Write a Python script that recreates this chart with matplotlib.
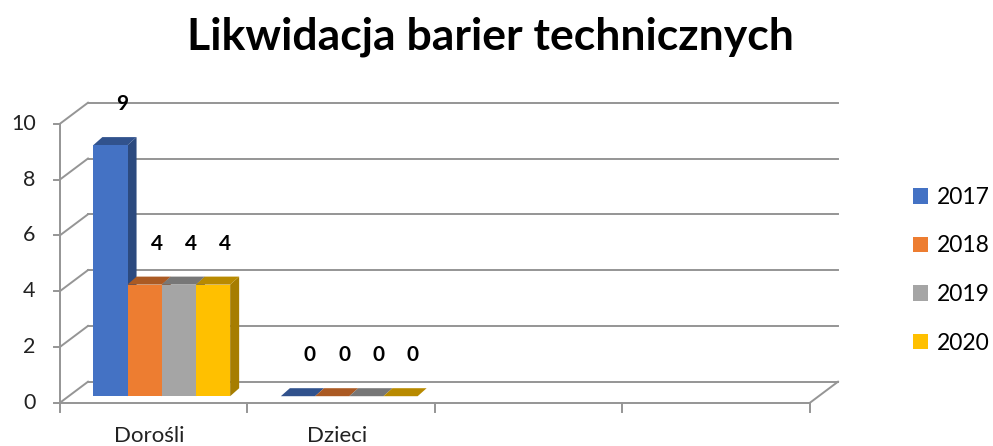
import matplotlib
matplotlib.use("Agg")
import matplotlib.pyplot as plt
from matplotlib.patches import Polygon
import numpy as np

plt.rcParams['font.family'] = ['Lato', 'DejaVu Sans']

categories = ['Dorośli', 'Dzieci', '', '']
years = ['2017', '2018', '2019', '2020']
values_2017 = [9, 0]
values_2018 = [4, 0]
values_2019 = [4, 0]
values_2020 = [4, 0]
series = [values_2017, values_2018, values_2019, values_2020]
colors = ['#4472C4', '#ED7D31', '#A5A5A5', '#FFC000']
yticks = [0, 2, 4, 6, 8, 10]

# pixel geometry of the fake 3D box (data units: 1 category = 187.5 px, 1 value = 27.9 px)
PX = 187.5
PY = 27.9
wall_dx, wall_dy = 28 / PX, 21 / PY      # back wall offset
bar_dx, bar_dy = 8 / PX, 6.5 / PY        # bars front plane offset
dep_dx, dep_dy = 9 / PX, 8 / PY          # bar depth
bar_w = 34.2 / PX
grid_c = '#959595'


def shade(c, f):
    r, g, b = matplotlib.colors.to_rgb(c)
    return (r * f, g * f, b * f)


fig = plt.figure(figsize=(9.93, 4.46), dpi=100)
ax = fig.add_axes([0, 0, 1, 1])
ax.set_xlim(-60 / PX, (993 - 60) / PX)
ax.set_ylim((402.7 - 446) / PY, 402.7 / PY)
ax.axis('off')

n_cat = len(categories)
# back wall gridlines + side wall diagonals
for v in yticks:
    ax.plot([wall_dx, n_cat + wall_dx], [v + wall_dy, v + wall_dy], color=grid_c, lw=1.4, zorder=1)
    ax.plot([0, wall_dx], [v, v + wall_dy], color=grid_c, lw=1.4, zorder=1)
    ax.plot([-6 / PX, 0], [v, v], color=grid_c, lw=1.4, zorder=1)
    ax.text(-0.13, v, str(v), ha='right', va='center', fontsize=15.5, color='#222222')
# floor
ax.plot([0, n_cat], [0, 0], color=grid_c, lw=1.4, zorder=1)
ax.plot([n_cat, n_cat + wall_dx], [0, wall_dy], color=grid_c, lw=1.4, zorder=1)
ax.plot([0, 0], [0, 10], color=grid_c, lw=1.4, zorder=1)
for i in range(n_cat + 1):
    ax.plot([i, i], [0, -9 / PY], color=grid_c, lw=1.4, zorder=1)
for i, c in enumerate(categories):
    ax.text(i + 0.5 - 4 / PX, -1.40, c, ha='center', va='baseline', fontsize=16, color='#222222')

# bars
handles = []
z = 3
for ci in range(len(values_2017)):
    x_start = ci + 0.5 + bar_dx - 2 * bar_w
    for si, vals in enumerate(series):
        x0 = x_start + si * bar_w
        h = vals[ci]
        b = bar_dy
        top = Polygon([(x0, b + h), (x0 + bar_w, b + h), (x0 + bar_w + dep_dx, b + h + dep_dy),
                       (x0 + dep_dx, b + h + dep_dy)], closed=True,
                      facecolor=shade(colors[si], 0.72), edgecolor='none', zorder=z)
        side = Polygon([(x0 + bar_w, b), (x0 + bar_w, b + h), (x0 + bar_w + dep_dx, b + h + dep_dy),
                        (x0 + bar_w + dep_dx, b + dep_dy)], closed=True,
                       facecolor=shade(colors[si], 0.65), edgecolor='none', zorder=z)
        ax.add_patch(side)
        ax.add_patch(top)
        bc = ax.bar(x0, h, bar_w, bottom=b, align='edge', color=colors[si], zorder=z + 1,
                    label=years[si])
        if ci == 0:
            handles.append(bc)
        ax.text(x0 + bar_w / 2 + 12 / PX, b + h + 41 / PY, str(h), ha='center', va='center',
                fontsize=15, fontweight='bold', color='black', zorder=10)
        z += 2

fig.text(490 / 993, 1 - 37 / 446, 'Likwidacja barier technicznych', ha='center', va='center',
         fontsize=32, fontweight='bold', color='black')

fig.legend(handles=handles, labels=years, loc='upper left', bbox_to_anchor=(913 / 993, 1 - 187 / 446),
           frameon=False, fontsize=16.5, handlelength=0.65, handleheight=0.65, handletextpad=0.4,
           labelspacing=1.2, borderpad=0, borderaxespad=0)

fig.savefig('out.png', dpi=100)
